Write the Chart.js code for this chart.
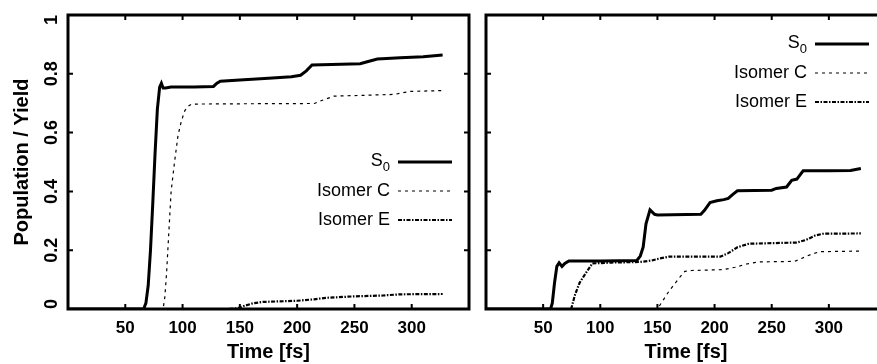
<!DOCTYPE html>
<html>
<head>
<meta charset="utf-8">
<script src="https://cdn.jsdelivr.net/npm/chart.js@4.4.1/dist/chart.umd.min.js"></script>
<style>
  html, body { margin: 0; padding: 0; background: #fff; overflow: hidden; }
  #wrap { position: relative; width: 877px; height: 364px; overflow: hidden; }
  canvas { position: absolute; top: 0; }
</style>
</head>
<body>
<div id="wrap">
  <canvas id="leftChart" width="478" height="364" style="left:0"></canvas>
  <canvas id="rightChart" width="420" height="364" style="left:477px"></canvas>
</div>
<script>
const timeTicks = [0, 50, 100, 150, 200, 250, 300, 350];
const yieldTicks = [0, 0.2, 0.4, 0.6, 0.8, 1];
const seriesLabels = ["S_0", "Isomer C", "Isomer E"];

// left panel
const leftS0Time = [0, 66, 68, 70, 72, 74, 76, 78, 80, 81.5, 83, 85, 90, 110, 127, 130, 133, 150, 175, 195, 203, 208, 213, 230, 255, 262, 270, 290, 310, 327];
const leftS0 = [0, 0, 0.02, 0.08, 0.2, 0.36, 0.53, 0.68, 0.755, 0.768, 0.752, 0.752, 0.755, 0.755, 0.757, 0.768, 0.775, 0.779, 0.785, 0.79, 0.795, 0.81, 0.83, 0.832, 0.834, 0.842, 0.85, 0.855, 0.858, 0.864];
const leftCTime = [0, 83, 84.5, 86, 88, 90, 93, 96, 99, 102, 105, 108, 150, 215, 222, 232, 260, 285, 298, 327];
const leftC = [0, 0, 0.04, 0.12, 0.26, 0.4, 0.5, 0.59, 0.64, 0.675, 0.69, 0.697, 0.698, 0.699, 0.71, 0.724, 0.727, 0.73, 0.74, 0.743];
const leftETime = [0, 140, 148, 155, 162, 170, 200, 215, 225, 250, 275, 290, 327];
const leftE = [0, 0, 0.003, 0.012, 0.02, 0.024, 0.028, 0.033, 0.038, 0.043, 0.046, 0.05, 0.051];

// right panel
const rightS0Time = [0, 56.5, 58, 60, 62, 64, 66.5, 69, 72.5, 100, 132, 135, 137.5, 140, 143.5, 147.5, 150, 188, 191, 196, 202, 208, 212, 216, 220, 250, 254, 263, 267.5, 272, 277.5, 300, 319, 328];
const rightS0 = [0, 0, 0.02, 0.09, 0.145, 0.157, 0.145, 0.155, 0.163, 0.163, 0.165, 0.18, 0.21, 0.29, 0.337, 0.322, 0.32, 0.322, 0.335, 0.362, 0.368, 0.372, 0.376, 0.39, 0.402, 0.404, 0.41, 0.415, 0.438, 0.442, 0.47, 0.47, 0.471, 0.478];
const rightCTime = [0, 150, 155, 160, 165, 170, 174, 180, 208, 218, 228, 238, 270, 276, 284, 292, 328];
const rightC = [0, 0, 0.03, 0.06, 0.085, 0.11, 0.128, 0.131, 0.134, 0.142, 0.153, 0.16, 0.162, 0.172, 0.185, 0.195, 0.197];
const rightETime = [0, 74.5, 78, 82, 87, 93, 110, 135, 145, 152, 160, 205, 212, 220, 230, 250, 272, 280, 288, 295, 328];
const rightE = [0, 0, 0.05, 0.09, 0.12, 0.155, 0.158, 0.16, 0.165, 0.172, 0.178, 0.178, 0.19, 0.21, 0.222, 0.224, 0.226, 0.235, 0.25, 0.256, 0.257];

const FONT = "'Liberation Sans', Arial, Helvetica, sans-serif";

function pts(ts, vs) {
  return ts.map((t, i) => ({ x: t, y: vs[i] }));
}

function makeDatasets(s0, c, e) {
  return [
    { label: seriesLabels[0], data: s0, borderColor: "#000", borderWidth: 3, borderDash: [] },
    { label: seriesLabels[1], data: c, borderColor: "#000", borderWidth: 1.2, borderDash: [3, 4] },
    { label: seriesLabels[2], data: e, borderColor: "#000", borderWidth: 2.2, borderDash: [4, 1.5, 1.5, 1.5] },
  ];
}

// frame, inward ticks, rotated y labels and key inside the plot
const framePlugin = {
  id: "frame",
  afterDatasetsDraw(chart, args, opts) {
    const { ctx, chartArea: a } = chart;
    const x = chart.scales.x;
    const y = chart.scales.y;
    ctx.save();
    ctx.strokeStyle = "#000";
    ctx.fillStyle = "#000";
    ctx.lineWidth = 2;
    ctx.beginPath();
    timeTicks.forEach((t) => {
      const px = x.getPixelForValue(t);
      ctx.moveTo(px, a.bottom);
      ctx.lineTo(px, a.bottom - 5);
      ctx.moveTo(px, a.top);
      ctx.lineTo(px, a.top + 5);
    });
    yieldTicks.forEach((v) => {
      const py = y.getPixelForValue(v);
      ctx.moveTo(a.left, py);
      ctx.lineTo(a.left + 5, py);
      ctx.moveTo(a.right, py);
      ctx.lineTo(a.right - 5, py);
    });
    ctx.stroke();
    ctx.lineWidth = 3;
    ctx.strokeRect(a.left, a.top, a.right - a.left, a.bottom - a.top);

    if (opts.yLabels) {
      ctx.font = "bold 18px " + FONT;
      ctx.textAlign = "center";
      ctx.textBaseline = "alphabetic";
      yieldTicks.forEach((v) => {
        const text = String(v);
        const w = ctx.measureText(text).width;
        let py = y.getPixelForValue(v);
        py = Math.min(Math.max(py, a.top + w / 2), a.bottom - w / 2);
        ctx.save();
        ctx.translate(a.left - 11, py);
        ctx.rotate(-Math.PI / 2);
        ctx.fillText(text, 0, 0);
        ctx.restore();
      });
    }

    const lineEnd = a.right - 17;
    const lineStart = lineEnd - 54;
    const textEnd = lineStart - 8;
    chart.data.datasets.forEach((ds, i) => {
      const yy = a.top + opts.keyTop + i * 29;
      ctx.setLineDash(ds.borderDash);
      ctx.lineWidth = ds.borderWidth;
      ctx.beginPath();
      ctx.moveTo(lineStart, yy);
      ctx.lineTo(lineEnd, yy);
      ctx.stroke();
      ctx.setLineDash([]);
      const [main, sub] = ds.label.split("_");
      ctx.textAlign = "right";
      ctx.textBaseline = "middle";
      if (sub) {
        ctx.font = "13px " + FONT;
        const sw = ctx.measureText(sub).width;
        ctx.fillText(sub, textEnd, yy + 5);
        ctx.font = "18px " + FONT;
        ctx.fillText(main, textEnd - sw, yy - 1);
      } else {
        ctx.font = "18px " + FONT;
        ctx.fillText(main, textEnd, yy);
      }
    });
    ctx.restore();
  },
};

function makeOptions(isLeft) {
  return {
    responsive: false,
    animation: false,
    devicePixelRatio: 1,
    layout: { padding: { top: 15, right: isLeft ? 3 : 11, left: 0, bottom: 0 } },
    elements: { point: { radius: 0 }, line: { tension: 0 } },
    plugins: {
      legend: { display: false },
      tooltip: { enabled: false },
      frame: { yLabels: isLeft, keyTop: isLeft ? 147 : 29 },
    },
    scales: {
      x: {
        type: "linear",
        min: 0,
        max: 350,
        grid: { display: false, drawTicks: false },
        border: { display: false },
        ticks: {
          stepSize: 50,
          padding: 9,
          color: "#000",
          font: { family: FONT, size: 17, weight: "bold" },
          callback: (v) => (v === 0 || v === 350 ? "" : v),
        },
        title: {
          display: true,
          text: "Time [fs]",
          color: "#000",
          font: { family: FONT, size: 20, weight: "bold" },
          padding: { top: 0, bottom: 0 },
        },
        afterFit: (scale) => { scale.height = 55; },
      },
      y: {
        min: 0,
        max: 1,
        grid: { display: false, drawTicks: false },
        border: { display: false },
        ticks: { display: false, stepSize: 0.2 },
        title: {
          display: isLeft,
          text: "Population / Yield",
          color: "#000",
          font: { family: FONT, size: 20, weight: "bold" },
          padding: { top: 10, bottom: 0 },
        },
        afterFit: (scale) => { scale.width = isLeft ? 68 : 4; },
      },
    },
  };
}

new Chart(document.getElementById("leftChart"), {
  type: "line",
  data: { datasets: makeDatasets(pts(leftS0Time, leftS0), pts(leftCTime, leftC), pts(leftETime, leftE)) },
  options: makeOptions(true),
  plugins: [framePlugin],
});

new Chart(document.getElementById("rightChart"), {
  type: "line",
  data: { datasets: makeDatasets(pts(rightS0Time, rightS0), pts(rightCTime, rightC), pts(rightETime, rightE)) },
  options: makeOptions(false),
  plugins: [framePlugin],
});
</script>
</body>
</html>
